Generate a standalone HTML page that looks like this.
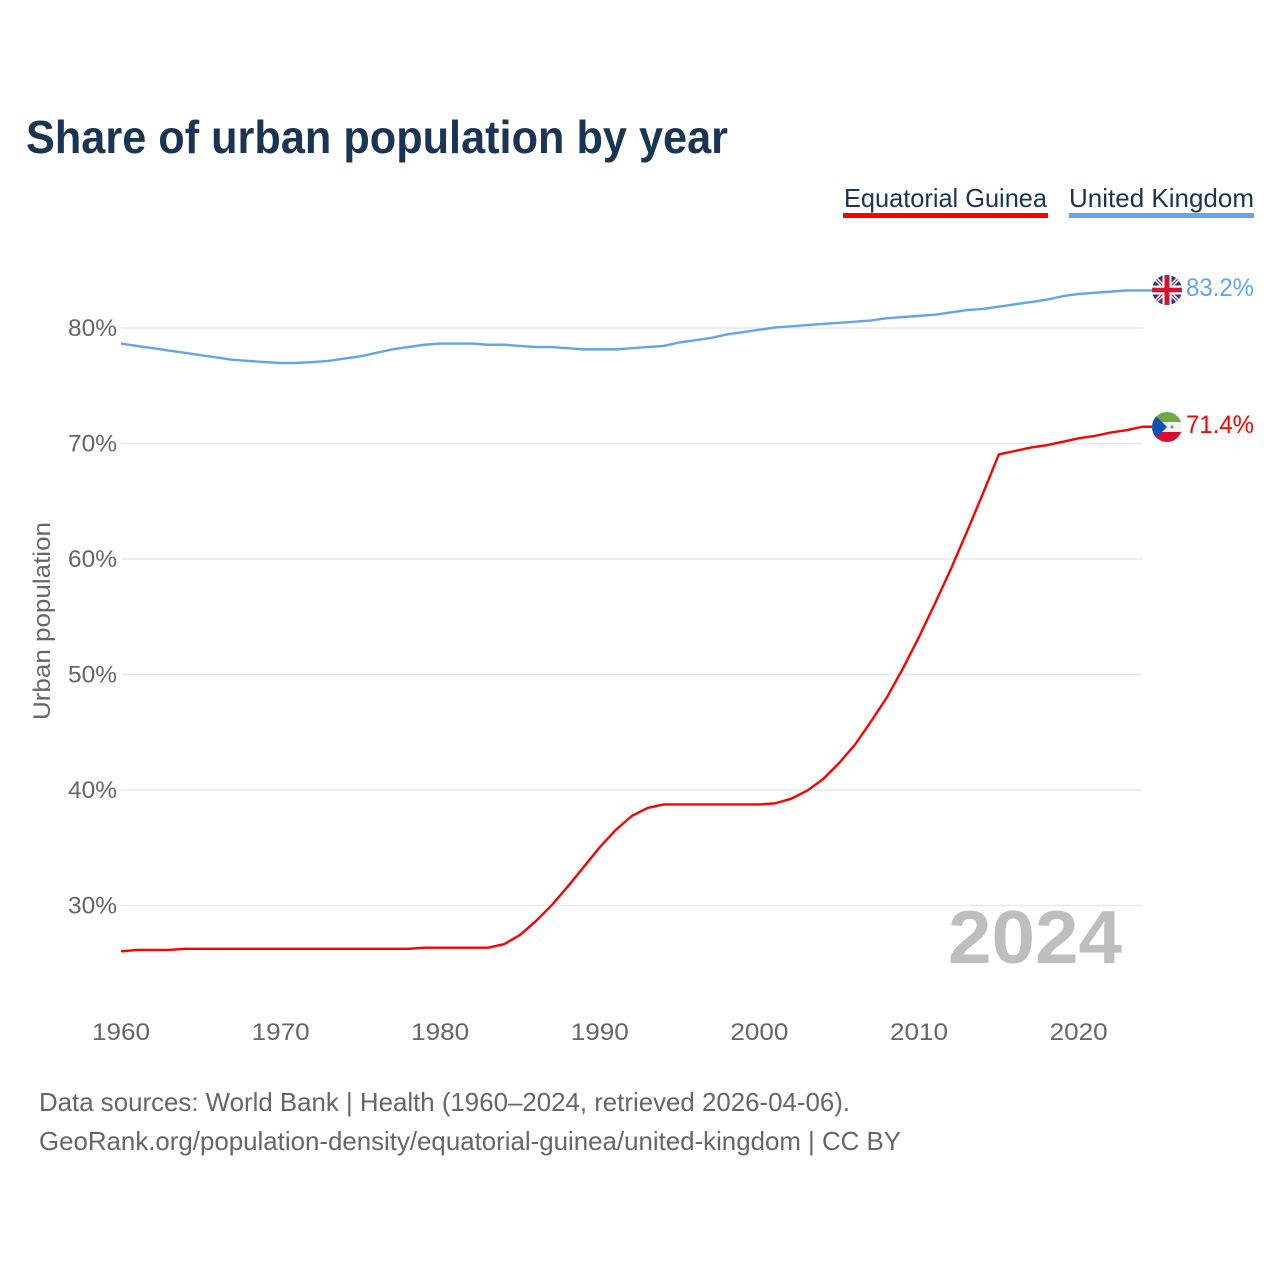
<!DOCTYPE html>
<html lang="en">
<head>
<meta charset="utf-8">
<title>Share of urban population by year</title>
<style>
html,body{margin:0;padding:0;background:#fff;width:1280px;height:1280px;overflow:hidden}
svg{display:block}
text{font-family:"Liberation Sans",sans-serif}
</style>
</head>
<body>
<svg id="chart" width="1280" height="1280" viewBox="0 0 1280 1280" xmlns="http://www.w3.org/2000/svg">
  <defs>
    <clipPath id="flag-clip-uk"><circle cx="1167" cy="290" r="15"/></clipPath>
    <clipPath id="flag-clip-gq"><circle cx="1167" cy="427" r="15"/></clipPath>
  </defs>
  <text x="26" y="153" font-size="46" font-weight="700" fill="#1a3454" textLength="702" lengthAdjust="spacingAndGlyphs">Share of urban population by year</text>

  <g>
    <text x="844" y="207" font-size="26" fill="#1a3454" textLength="203" lengthAdjust="spacingAndGlyphs">Equatorial Guinea</text>
    <rect x="843" y="213" width="205" height="5" fill="#ff0000"/>
  </g>
  <g>
    <text x="1069" y="207" font-size="26" fill="#1a3454" textLength="185" lengthAdjust="spacingAndGlyphs">United Kingdom</text>
    <rect x="1069" y="213" width="185" height="5" fill="#62a5ec"/>
  </g>

  <text transform="translate(50,720) rotate(-90)" font-size="24" fill="#666666" textLength="198" lengthAdjust="spacingAndGlyphs">Urban population</text>

  <g id="grid"></g>
  <g id="y-labels"></g>
  <g id="x-labels"></g>

  <text x="948" y="963" font-size="75" font-weight="700" fill="#bebebe" textLength="174" lengthAdjust="spacingAndGlyphs">2024</text>

  <g id="series"></g>

  <g clip-path="url(#flag-clip-uk)">
    <rect x="1152" y="275" width="30" height="30" fill="#1f3d8a"/>
    <path d="M1152 275L1182 305M1182 275L1152 305" stroke="#ffffff" stroke-width="4"/>
    <path d="M1152 275L1182 305M1182 275L1152 305" stroke="#d8102f" stroke-width="1.2"/>
    <rect x="1162.5" y="275" width="9" height="30" fill="#ffffff"/>
    <rect x="1152" y="285.5" width="30" height="9" fill="#ffffff"/>
    <rect x="1164.5" y="275" width="5" height="30" fill="#d8102f"/>
    <rect x="1152" y="287.7" width="30" height="4.6" fill="#d8102f"/>
  </g>
  <g clip-path="url(#flag-clip-gq)">
    <rect x="1152" y="412" width="30" height="10" fill="#6fa845"/>
    <rect x="1152" y="422" width="30" height="10" fill="#f1f1f1"/>
    <rect x="1152" y="432" width="30" height="10" fill="#dc0a33"/>
    <path d="M1152 412L1167 427L1152 442Z" fill="#0d51b8"/>
    <circle cx="1172" cy="427" r="1.6" fill="#7d9a70"/>
  </g>

  <text x="1186" y="296" font-size="25" fill="#62a5ec" textLength="68" lengthAdjust="spacingAndGlyphs">83.2%</text>
  <text x="1186" y="433" font-size="25" fill="#ff0000" textLength="68" lengthAdjust="spacingAndGlyphs">71.4%</text>

  <text x="39" y="1111" font-size="26" fill="#666666" textLength="811" lengthAdjust="spacingAndGlyphs">Data sources: World Bank | Health (1960–2024, retrieved 2026-04-06).</text>
  <text x="39" y="1150" font-size="26" fill="#666666" textLength="862" lengthAdjust="spacingAndGlyphs">GeoRank.org/population-density/equatorial-guinea/united-kingdom | CC BY</text>
</svg>
<script>
const startYear = 1960;
const yTicks = [30, 40, 50, 60, 70, 80];
const xTicks = [1960, 1970, 1980, 1990, 2000, 2010, 2020];
const ukValues = [78.65,78.45,78.25,78.05,77.85,77.65,77.45,77.25,77.15,77.05,76.97,76.97,77.05,77.15,77.35,77.55,77.85,78.15,78.35,78.55,78.65,78.65,78.65,78.55,78.55,78.45,78.35,78.35,78.25,78.15,78.15,78.15,78.25,78.35,78.45,78.75,78.95,79.15,79.45,79.65,79.85,80.05,80.15,80.25,80.35,80.45,80.55,80.65,80.85,80.95,81.05,81.15,81.35,81.55,81.65,81.85,82.05,82.25,82.45,82.75,82.95,83.05,83.15,83.25,83.25];
const gqValues = [26.03,26.15,26.15,26.15,26.25,26.25,26.25,26.25,26.25,26.25,26.25,26.25,26.25,26.25,26.25,26.25,26.25,26.25,26.25,26.35,26.35,26.35,26.35,26.35,26.65,27.45,28.65,30.05,31.65,33.35,35.05,36.55,37.75,38.45,38.75,38.75,38.75,38.75,38.75,38.75,38.75,38.85,39.25,39.95,40.95,42.35,43.95,45.95,48.05,50.55,53.25,56.15,59.15,62.35,65.65,69.05,69.35,69.65,69.85,70.15,70.45,70.65,70.95,71.15,71.45];

function xScale(year) { return 121 + (year - 1960) * 15.96; }
function yScale(value) { return 905.5 - (value - 30) * 11.55; }

const NS = 'http://www.w3.org/2000/svg';
const grid = document.getElementById('grid');
const yLabels = document.getElementById('y-labels');
const xLabels = document.getElementById('x-labels');
const series = document.getElementById('series');

yTicks.forEach(function (tick) {
  const line = document.createElementNS(NS, 'line');
  
  
  line.setAttribute('x1', xScale(1960));
  line.setAttribute('x2', xScale(2024));
  line.setAttribute('y1', yScale(tick));
  line.setAttribute('y2', yScale(tick));
  line.setAttribute('stroke', '#e9e9e9');
  line.setAttribute('stroke-width', '1.4');
  grid.appendChild(line);

  const label = document.createElementNS(NS, 'text');
  
  
  label.setAttribute('x', '117');
  label.setAttribute('y', yScale(tick) + 8);
  label.setAttribute('text-anchor', 'end');
  label.setAttribute('font-size', '24');
  label.setAttribute('fill', '#666666');
  label.setAttribute('textLength', '49');
  label.setAttribute('lengthAdjust', 'spacingAndGlyphs');
  label.textContent = tick + '%';
  yLabels.appendChild(label);
});

xTicks.forEach(function (tick) {
  const label = document.createElementNS(NS, 'text');
  
  
  label.setAttribute('x', xScale(tick));
  label.setAttribute('y', '1040');
  label.setAttribute('text-anchor', 'middle');
  label.setAttribute('font-size', '24');
  label.setAttribute('fill', '#666666');
  label.setAttribute('textLength', '58');
  label.setAttribute('lengthAdjust', 'spacingAndGlyphs');
  label.textContent = tick;
  xLabels.appendChild(label);
});

function drawSeries(values, color, name) {
  const points = values.map(function (value, i) {
    return xScale(startYear + i).toFixed(2) + ',' + yScale(value).toFixed(2);
  });
  const last = yScale(values[values.length - 1]).toFixed(2);
  points.push('1152,' + last);
  const path = document.createElementNS(NS, 'polyline');
  
  
  path.setAttribute('points', points.join(' '));
  path.setAttribute('fill', 'none');
  path.setAttribute('stroke', color);
  path.setAttribute('stroke-width', '2.4');
  path.setAttribute('stroke-linejoin', 'round');
  series.appendChild(path);
}

drawSeries(ukValues, '#62a5ec', 'line-united-kingdom');
drawSeries(gqValues, '#ff0000', 'line-equatorial-guinea');
</script>
</body>
</html>
